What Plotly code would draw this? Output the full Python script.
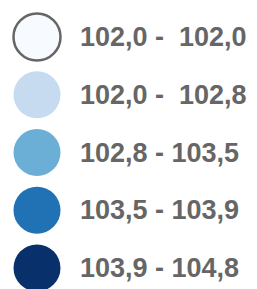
import plotly.graph_objects as go

labels = ["102,0 -  102,0", "102,0 -  102,8", "102,8 - 103,5", "103,5 - 103,9", "103,9 - 104,8"]
colors = ["#f7fbff", "#c6dbef", "#6baed6", "#2171b5", "#08306b"]
border_colors = ["#666666", "#c6dbef", "#6baed6", "#2171b5", "#08306b"]
border_widths = [2.5, 0, 0, 0, 0]

idx = list(range(len(labels)))

fig = go.Figure()
fig.add_trace(go.Scatter(
    x=[37] * len(labels), y=idx, mode="markers",
    marker=dict(size=47, color=colors, line=dict(color=border_colors, width=border_widths)),
    hoverinfo="skip", showlegend=False,
))
for i, lab in zip(idx, labels):
    fig.add_annotation(x=78, y=i, text=lab, xanchor="left", yanchor="middle",
                       showarrow=False, xref="x", yref="y",
                       font=dict(family="Liberation Sans, Arial", size=27, color="#666666", weight="bold"))

fig.update_layout(
    width=257, height=289, margin=dict(l=0, r=0, t=0, b=0),
    paper_bgcolor="white", plot_bgcolor="white",
    xaxis=dict(range=[0, 257], visible=False, fixedrange=True),
    yaxis=dict(range=[4.364, -0.641], visible=False, fixedrange=True),
)
fig.write_html("out.html", config={"displayModeBar": False},
               post_script="document.body.style.margin='0';document.body.style.overflow='hidden';")
